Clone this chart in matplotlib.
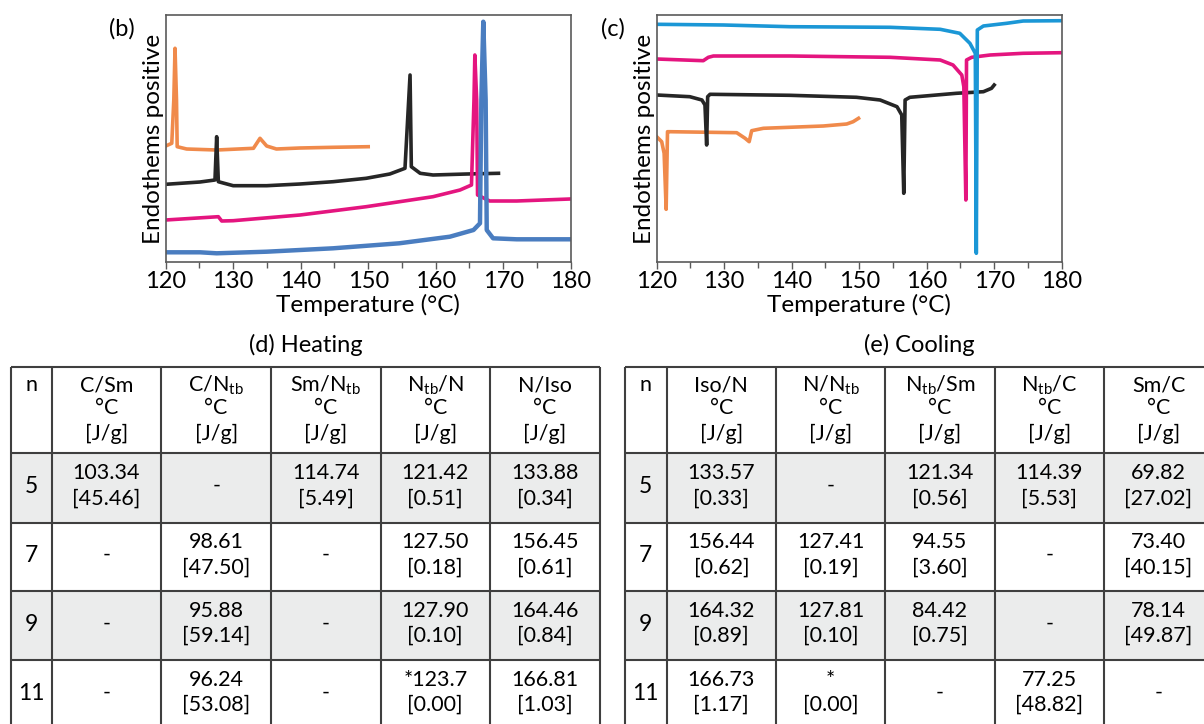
"""DSC traces (heating / cooling) and transition tables for n = 5, 7, 9, 11."""

import matplotlib
matplotlib.use("Agg")
import matplotlib.pyplot as plt
from matplotlib.patches import Rectangle

plt.rcParams["font.family"] = ["Lato", "DejaVu Sans"]
plt.rcParams["mathtext.fontset"] = "custom"
plt.rcParams["mathtext.rm"] = "Lato"
plt.rcParams["mathtext.it"] = "Lato:italic"

# ---- heating traces (b), heat flow in arbitrary units ----
heat_n5_T = [120.0, 120.9, 121.2, 121.38, 121.6, 121.7, 123.1, 127.55, 133.0, 133.97, 134.96, 136.4, 139.9, 144.8, 150.0]
heat_n5_y = [116, 118.7, 162, 213.7, 162, 115.3, 113, 112, 113.7, 123.7, 116, 113, 114, 114.7, 115.3]

heat_n7_T = [120.0, 125.08, 127.3, 127.55, 127.8, 130.0, 134.96, 139.9, 144.8, 149.7, 153.2, 155.45, 156.2, 156.39, 157.7, 159.6, 164.6, 169.3]
heat_n7_y = [77.7, 80, 82, 125.3, 80.3, 76.3, 76.3, 78, 80.3, 83.7, 88, 93.7, 187, 95.3, 88.7, 87, 88, 88.7]

heat_n9_T = [120.0, 127.8, 128.3, 130.0, 139.9, 149.7, 159.6, 163.6, 165.3, 165.67, 165.8, 166.07, 166.2, 168.0, 172.0, 179.9]
heat_n9_y = [42, 45.3, 41, 41.3, 47, 55.3, 65.3, 72, 77, 162, 207, 162, 67, 61, 61, 63]

heat_n11_T = [120.0, 125.1, 127.55, 134.96, 144.8, 154.6, 162.1, 165.6, 166.56, 166.76, 167.05, 167.4, 167.56, 168.5, 172.0, 179.9]
heat_n11_y = [9.7, 9.7, 8.7, 10.3, 13.7, 18.7, 25.3, 32, 38.7, 162, 240.3, 162, 32, 23.7, 22.7, 22.7]

# ---- cooling traces (c) ----
cool_n5_T = [120.0, 120.74, 121.1, 121.4, 121.6, 121.97, 131.85, 133.1, 133.7, 134.07, 135.8, 144.7, 148.15, 149.1, 149.9]
cool_n5_y = [125.3, 120.3, 108.7, 52.7, 130.3, 130.3, 129.3, 123.7, 120.3, 131.3, 133.7, 136, 138, 140.3, 143.7]

cool_n7_T = [120.0, 124.9, 126.7, 127.15, 127.4, 127.55, 127.9, 139.75, 149.6, 153.1, 155.6, 156.3, 156.6, 156.8, 157.5, 164.4, 168.4, 169.6, 170.0]
cool_n7_y = [167, 165.3, 162, 157, 117, 165.3, 167.7, 166.7, 164.7, 162, 155.3, 147, 68.7, 162, 164.7, 168.7, 170.3, 173.7, 177]

cool_n9_T = [120.0, 126.9, 127.65, 128.4, 139.75, 154.6, 162.0, 163.9, 165.2, 165.5, 165.8, 165.9, 166.67, 169.4, 174.3, 180.0]
cool_n9_y = [203, 201.3, 204.7, 206, 206, 204.7, 202, 197, 187, 175.3, 62, 202, 204.7, 207, 208.7, 209.3]

cool_n11_T = [120.0, 129.9, 139.75, 154.6, 162.0, 164.9, 166.4, 167.2, 167.35, 167.5, 168.4, 171.85, 174.3, 180.0]
cool_n11_y = [237.7, 237, 235.3, 234.7, 232.7, 228.7, 218.7, 208.7, 8.7, 232, 236, 238.7, 241, 241.3]

# ---- tables (d) heating, (e) cooling ----
n_values = ["5", "7", "9", "11"]
heat_headers = ["C/Sm", "C/N$_{\\mathregular{tb}}$", "Sm/N$_{\\mathregular{tb}}$", "N$_{\\mathregular{tb}}$/N", "N/Iso"]
heat_cells = [
    ["103.34\n[45.46]", "-", "114.74\n[5.49]", "121.42\n[0.51]", "133.88\n[0.34]"],
    ["-", "98.61\n[47.50]", "-", "127.50\n[0.18]", "156.45\n[0.61]"],
    ["-", "95.88\n[59.14]", "-", "127.90\n[0.10]", "164.46\n[0.84]"],
    ["-", "96.24\n[53.08]", "-", "*123.7\n[0.00]", "166.81\n[1.03]"],
]
cool_headers = ["Iso/N", "N/N$_{\\mathregular{tb}}$", "N$_{\\mathregular{tb}}$/Sm", "N$_{\\mathregular{tb}}$/C", "Sm/C"]
cool_cells = [
    ["133.57\n[0.33]", "-", "121.34\n[0.56]", "114.39\n[5.53]", "69.82\n[27.02]"],
    ["156.44\n[0.62]", "127.41\n[0.19]", "94.55\n[3.60]", "-", "73.40\n[40.15]"],
    ["164.32\n[0.89]", "127.81\n[0.10]", "84.42\n[0.75]", "-", "78.14\n[49.87]"],
    ["166.73\n[1.17]", "*\n[0.00]", "-", "77.25\n[48.82]", "-"],
]

COLORS = {"5": "#F08A4B", "7": "#262626", "9": "#E4157F"}
BLUE_HEAT = "#4A7DC0"
BLUE_COOL = "#1B97D6"

W, H = 1204, 724
fig = plt.figure(figsize=(W / 100, H / 100), dpi=100)


def dsc_axes(left_px, label):
    ax = fig.add_axes([left_px / W, (H - 262) / H, 405 / W, 247 / H])
    ax.set_xlim(120, 180)
    ax.set_ylim(0, 247)
    ax.set_xticks(range(120, 181, 10))
    ax.set_xticks(range(125, 180, 10), minor=True)
    ax.set_yticks([])
    ax.tick_params(axis="x", which="major", direction="out", length=5, width=1,
                   color="#5a5a5a", labelsize=17, pad=1.5)
    ax.tick_params(axis="x", which="minor", direction="out", length=4, width=1, color="#5a5a5a")
    for sp in ax.spines.values():
        sp.set_color("#5a5a5a")
        sp.set_linewidth(1.2)
    ax.set_xlabel("Temperature (°C)", fontsize=17.5, labelpad=1)
    ax.set_ylabel("Endothems positive", fontsize=17.5, labelpad=1)
    fig.text((left_px - 44) / W, 1 - 29 / H, label, fontsize=17, ha="center", va="center")
    return ax


# (b) heating
axb = dsc_axes(165.7, "(b)")
axb.plot(heat_n5_T, heat_n5_y, color=COLORS["5"], lw=2.6, solid_joinstyle="round")
axb.plot(heat_n7_T, heat_n7_y, color=COLORS["7"], lw=2.6, solid_joinstyle="round")
axb.plot(heat_n9_T, heat_n9_y, color=COLORS["9"], lw=2.6, solid_joinstyle="round")
axb.plot(heat_n11_T, heat_n11_y, color=BLUE_HEAT, lw=3.2, solid_joinstyle="round")

# (c) cooling
axc = dsc_axes(656.7, "(c)")
axc.plot(cool_n5_T, cool_n5_y, color=COLORS["5"], lw=2.6, solid_joinstyle="round")
axc.plot(cool_n7_T, cool_n7_y, color=COLORS["7"], lw=2.6, solid_joinstyle="round")
axc.plot(cool_n9_T, cool_n9_y, color=COLORS["9"], lw=2.6, solid_joinstyle="round")
axc.plot(cool_n11_T, cool_n11_y, color=BLUE_COOL, lw=2.6, solid_joinstyle="round")

# tables drawn on a full-figure overlay in pixel coordinates
tab = fig.add_axes([0, 0, 1, 1])
tab.set_xlim(0, W)
tab.set_ylim(H, 0)
tab.axis("off")

row_edges = [367, 453, 522.7, 591, 660, 729]
LINE = "#3f3f3f"
SHADE = "#ebecec"
FS = 15.5


def draw_table(x_edges, title, headers, cells):
    x0, x1 = x_edges[0], x_edges[-1]
    tab.text((x0 + x1) / 2, 345, title, fontsize=17, ha="center", va="center")
    for r in (0, 2):
        y0, y1 = row_edges[r + 1], row_edges[r + 2]
        tab.add_patch(Rectangle((x0, y0), x1 - x0, y1 - y0, facecolor=SHADE, edgecolor="none"))
    tab.hlines(row_edges, x0, x1, color=LINE, lw=1.5)
    tab.vlines(x_edges, row_edges[0], row_edges[-1], color=LINE, lw=1.5)
    # header
    tab.text((x_edges[0] + x_edges[1]) / 2, 385, "n", fontsize=FS, ha="center", va="center")
    for j, hdr in enumerate(headers):
        xc = (x_edges[j + 1] + x_edges[j + 2]) / 2
        tab.text(xc, 385, hdr, fontsize=FS, ha="center", va="center")
        tab.text(xc, 408, "°C", fontsize=FS, ha="center", va="center")
        tab.text(xc, 434, "[J/g]", fontsize=FS, ha="center", va="center")
    # body
    for i, n in enumerate(n_values):
        yc = (row_edges[i + 1] + row_edges[i + 2]) / 2
        tab.text((x_edges[0] + x_edges[1]) / 2, yc - 1, n, fontsize=FS + 1, ha="center", va="center")
        for j, val in enumerate(cells[i]):
            xc = (x_edges[j + 1] + x_edges[j + 2]) / 2
            tab.text(xc, yc - 2, val, fontsize=FS, ha="center", va="center", linespacing=1.3)


draw_table([11, 51.7, 161.3, 271, 380.6, 490, 600], "(d) Heating", heat_headers, heat_cells)
draw_table([625, 666.7, 776, 885.3, 994.6, 1104, 1213], "(e) Cooling", cool_headers, cool_cells)

fig.savefig("out.png", dpi=100)
